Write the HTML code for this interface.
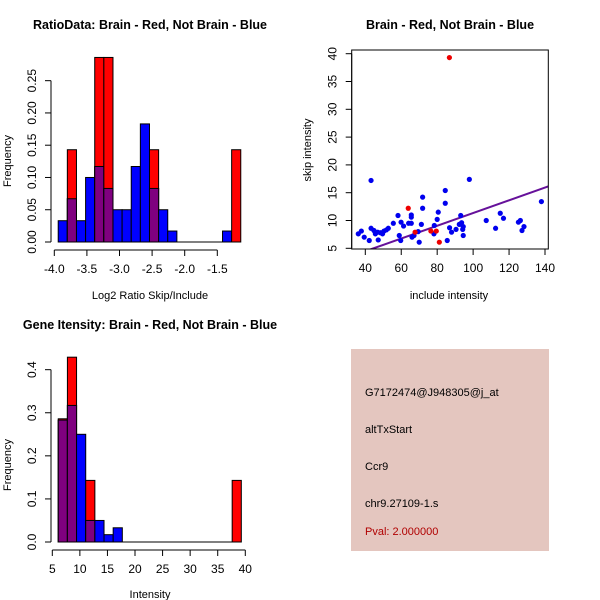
<!DOCTYPE html>
<html><head><meta charset="utf-8"><style>
html,body{margin:0;padding:0;background:#fff;}
svg{display:block;font-family:"Liberation Sans",Arial,sans-serif;}
</style></head><body>
<svg id="chart" width="600" height="600" viewBox="0 0 600 600" xmlns="http://www.w3.org/2000/svg">
<rect width="600" height="600" fill="#fff"/>
<g>
<rect x="351" y="349" width="198" height="202" fill="#e4c6bf"/>
<text x="365" y="396" font-size="11" fill="#000">G7172474@J948305@j_at</text>
<text x="365" y="433" font-size="11" fill="#000">altTxStart</text>
<text x="365" y="470" font-size="11" fill="#000">Ccr9</text>
<text x="365" y="507" font-size="11" fill="#000">chr9.27109-1.s</text>
<text x="365" y="535" font-size="11" fill="#b00000">Pval: 2.000000</text>
</g>
</svg>
<script>
// ---- data: ratio histogram ----
const ratioBinStart = -3.94;
const ratioBinWidth = 0.14;
const ratioBlue = [0.033,0.067,0.033,0.1,0.117,0.083,0.05,0.05,0.117,0.183,0.083,0.05,0.017,0,0,0,0,0,0.017,0];
const ratioRed  = [0,0.143,0,0,0.286,0.286,0,0,0,0,0.143,0,0,0,0,0,0,0,0,0.143];
const ratioXTicks = [-4.0,-3.5,-3.0,-2.5,-2.0,-1.5];
const ratioYTicks = [0,0.05,0.10,0.15,0.20,0.25];
// ---- data: intensity histogram ----
const intBinStart = 6.08;
const intBinWidth = 1.66;
const intBlue = [0.283,0.317,0.25,0.05,0.05,0.017,0.033,0,0,0,0,0,0,0,0,0,0,0,0,0];
const intRed  = [0.286,0.429,0,0.143,0,0,0,0,0,0,0,0,0,0,0,0,0,0,0,0.143];
const intXTicks = [5,10,15,20,25,30,35,40];
const intYTicks = [0,0.1,0.2,0.3,0.4];
// ---- data: scatter ----
const blueInclude = [36.1,37.8,39.4,42.2,43.2,43.2,44.8,45.6,47.2,46.9,48.5,49.6,50.4,51.7,52.8,55.6,58.2,58.9,59.7,59.9,61.3,64.1,65.6,65.6,65.6,66.0,67.1,70.0,69.4,71.2,71.9,71.9,78.4,78.2,80.0,80.6,84.5,84.5,85.6,86.9,88.0,90.5,92.3,93.1,93.6,94.5,94.2,94.5,97.9,107.3,112.5,115.1,116.9,125.2,126.3,127.2,128.3,138.0];
const blueSkip    = [7.6,8.1,7.0,6.4,17.2,8.6,8.2,7.6,6.5,7.9,7.8,7.6,8.1,8.3,8.6,9.5,10.9,7.3,6.4,9.7,9.0,9.5,10.6,11.0,9.5,7.0,7.3,6.1,8.0,9.3,12.2,14.2,9.1,7.6,10.2,11.5,13.1,15.4,6.4,8.7,7.9,8.4,9.3,10.9,9.6,8.9,8.4,7.3,17.4,10.0,8.6,11.3,10.4,9.7,10.0,8.2,8.9,13.4];
const redInclude = [86.8,63.9,76.5,79.5,81.2,67.7];
const redSkip    = [39.3,12.2,8.1,8.1,6.1,7.9];
const fitIntercept = -0.1;
const fitSlope = 0.1145;
const scatXTicks = [40,60,80,100,120,140];
const scatYTicks = [5,10,15,20,25,30,35,40];

const svg = document.getElementById('chart');
const NS = 'http://www.w3.org/2000/svg';
function mk(tag, attrs, parent){const e=document.createElementNS(NS,tag);for(const k in attrs)e.setAttribute(k,attrs[k]);(parent||svg).appendChild(e);return e;}
function txt(s,x,y,size,opts,parent){const e=mk('text',Object.assign({x:x,y:y,'font-size':size,'text-anchor':'middle',fill:'#000'},opts||{}),parent);e.textContent=s;return e;}

function hist(g, start, w, blue, red, sx, sy){
  for(let i=0;i<blue.length;i++){
    const x0=sx(start+i*w), x1=sx(start+(i+1)*w);
    const b=blue[i], r=red[i];
    if(b>0){const e=mk('rect',{x:x0,y:sy(b),width:x1-x0,height:sy(0)-sy(b),fill:'#0000ff',stroke:'#000','stroke-width':1},g);
      
      }
    if(r>0){const e=mk('rect',{x:x0,y:sy(r),width:x1-x0,height:sy(0)-sy(r),fill:'#ff0000',stroke:'#000','stroke-width':1},g);
      
      }
    if(b>0&&r>0){const m=Math.min(b,r);const e=mk('rect',{x:x0,y:sy(m),width:x1-x0,height:sy(0)-sy(m),fill:'#7f007f',stroke:'#000','stroke-width':1},g);
      
      }
  }
  mk('line',{x1:sx(start),x2:sx(start+blue.length*w),y1:sy(0),y2:sy(0),stroke:'#000'},g);
}
function yAxis(g,x,ticks,sy,fmt){
  mk('line',{x1:x,x2:x,y1:sy(ticks[0]),y2:sy(ticks[ticks.length-1]),stroke:'#000'},g);
  ticks.forEach(t=>{mk('line',{x1:x-6,x2:x,y1:sy(t),y2:sy(t),stroke:'#000'},g);
    txt(fmt(t),x-15,sy(t),12,{transform:`rotate(-90 ${x-15} ${sy(t)})`},g);});
}
function xAxis(g,y,ticks,sx,fmt){
  mk('line',{x1:sx(ticks[0]),x2:sx(ticks[ticks.length-1]),y1:y,y2:y,stroke:'#000'},g);
  ticks.forEach(t=>{mk('line',{x1:sx(t),x2:sx(t),y1:y,y2:y+6,stroke:'#000'},g);
    txt(fmt(t),sx(t),y+23,12,{},g);});
}

// Panel 1
{
  const g=mk('g',{});
  
  
  const sx=v=>54.3+(v+4)*65.2, sy=v=>242-v*645.3;
  hist(g,ratioBinStart,ratioBinWidth,ratioBlue,ratioRed,sx,sy);
  yAxis(g,51,ratioYTicks,sy,t=>t.toFixed(2));
  xAxis(g,250,ratioXTicks,sx,t=>t.toFixed(1));
  txt('RatioData: Brain - Red, Not Brain - Blue',150,29,12.5,{'font-weight':'bold'},g);
  txt('Log2 Ratio Skip/Include',150,299,11,{},g);
  txt('Frequency',11,161,11,{transform:'rotate(-90 11 161)'},g);
}
// Panel 3
{
  const g=mk('g',{});
  
  
  const sx=v=>52.3+(v-5)*5.514, sy=v=>542-v*430.8;
  hist(g,intBinStart,intBinWidth,intBlue,intRed,sx,sy);
  yAxis(g,51,intYTicks,sy,t=>t.toFixed(1));
  xAxis(g,550,intXTicks,sx,t=>String(t));
  txt('Gene Itensity: Brain - Red, Not Brain - Blue',150,329,12.5,{'font-weight':'bold'},g);
  txt('Intensity',150,598,11,{},g);
  txt('Frequency',11,465,11,{transform:'rotate(-90 11 465)'},g);
}
// Panel 2
{
  const g=mk('g',{});
  
  
  const sx=v=>365.3+(v-40)*1.797, sy=v=>248.3-(v-5)*5.56;
  mk('defs',{},g).innerHTML='<clipPath id="cp"><rect x="351.7" y="50" width="196.6" height="199"/></clipPath>';
  const ln=mk('line',{x1:sx(30),y1:sy(fitIntercept+fitSlope*30),x2:sx(150),y2:sy(fitIntercept+fitSlope*150),stroke:'#66119a','stroke-width':2,'clip-path':'url(#cp)'},g);
  
  
  blueInclude.forEach((v,i)=>{const c=mk('circle',{cx:sx(v),cy:sy(blueSkip[i]),r:2.6,fill:'#0000ee'},g);
    
    });
  redInclude.forEach((v,i)=>{const c=mk('circle',{cx:sx(v),cy:sy(redSkip[i]),r:2.6,fill:'#ee0000'},g);
    
    });
  mk('rect',{x:351.7,y:50,width:196.6,height:199,fill:'none',stroke:'#000'},g);
  yAxis(g,351.7,scatYTicks,sy,t=>String(t));
  xAxis(g,249,scatXTicks,sx,t=>String(t));
  txt('Brain - Red, Not Brain - Blue',450,29,12.5,{'font-weight':'bold'},g);
  txt('include intensity',449,299,11,{},g);
  txt('skip intensity',311,150,11,{transform:'rotate(-90 311 150)'},g);
}
</script>
</body></html>
